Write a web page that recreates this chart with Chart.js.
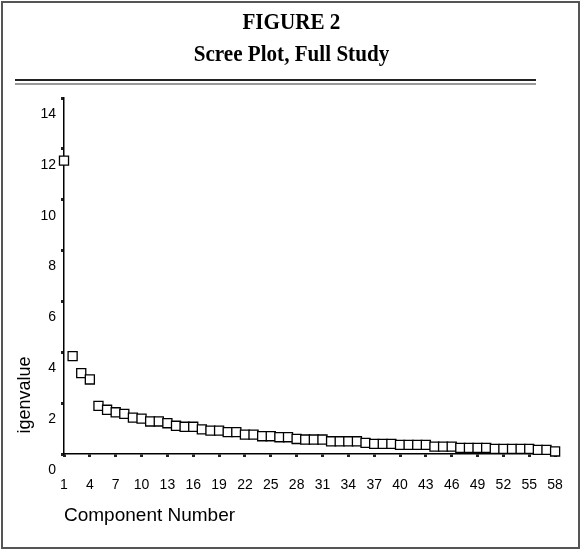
<!DOCTYPE html>
<html>
<head>
<meta charset="utf-8">
<script src="https://cdn.jsdelivr.net/npm/chart.js@4/dist/chart.umd.min.js"></script>
<style>
  html, body { margin: 0; padding: 0; background: #fff; }
  #wrap { position: relative; width: 583px; height: 550px; overflow: hidden; background: #fff; }
  #frame { position: absolute; left: 1px; top: 1px; width: 575px; height: 544px; border: 2px solid #555; box-sizing: content-box; }
  #heading { position: absolute; left: 0; top: 5px; width: 583px; text-align: center; transform: scaleX(0.88); transform-origin: 291px 0;
    font-family: "Liberation Serif", "Times New Roman", serif; font-weight: bold; font-size: 24px; line-height: 32px; color: #000; }
  #rule { position: absolute; left: 15px; top: 79px; width: 521px; height: 2px; border-top: 2px solid #222; border-bottom: 2px solid #999; }
  #ytitle { position: absolute; left: 24px; top: 395px; transform: translate(-50%, -50%) rotate(-90deg);
    font-family: "Liberation Sans", Arial, sans-serif; font-size: 18px; color: #000; white-space: nowrap; }
  canvas { position: absolute; left: 0; top: 0; }
</style>
</head>
<body>
<div id="wrap">
  <canvas id="c" width="583" height="550"></canvas>
  <div id="frame"></div>
  <div id="heading">FIGURE 2<br>Scree Plot, Full Study</div>
  <div id="rule"></div>
  <div id="ytitle">igenvalue</div>
</div>
<script>
const components = [1,2,3,4,5,6,7,8,9,10,11,12,13,14,15,16,17,18,19,20,21,22,23,24,25,26,27,28,29,30,31,32,33,34,35,36,37,38,39,40,41,42,43,44,45,46,47,48,49,50,51,52,53,54,55,56,57,58];
const eigenvalues = [11.54,3.85,3.18,2.93,1.89,1.74,1.64,1.58,1.43,1.39,1.28,1.28,1.21,1.11,1.07,1.07,0.97,0.92,0.92,0.86,0.86,0.76,0.76,0.70,0.70,0.66,0.66,0.59,0.57,0.57,0.57,0.50,0.50,0.50,0.50,0.44,0.40,0.40,0.40,0.36,0.36,0.36,0.36,0.29,0.29,0.29,0.24,0.24,0.24,0.24,0.20,0.20,0.20,0.20,0.20,0.16,0.16,0.10];
const xTickValues = [1,4,7,10,13,16,19,22,25,28,31,34,37,40,43,46,49,52,55,58];
const yTickValues = [0,2,4,6,8,10,12,14];
const xTitle = 'Component Number';

const points = components.map((c, i) => ({ x: c, y: eigenvalues[i] }));
const tickFont = { family: 'Liberation Sans', size: 14 };

new Chart(document.getElementById('c'), {
  type: 'scatter',
  data: {
    datasets: [{
      data: points,
      showLine: false,
      pointStyle: 'rect',
      pointRadius: 6.4,
      pointHoverRadius: 6.4,
      pointBorderWidth: 1.3,
      pointBorderColor: '#000',
      pointBackgroundColor: '#fff',
      clip: false
    }]
  },
  options: {
    responsive: false,
    devicePixelRatio: 1,
    animation: false,
    layout: { padding: { top: 98, left: 0, right: 16, bottom: 0 } },
    plugins: { legend: { display: false }, tooltip: { enabled: false } },
    scales: {
      x: {
        type: 'linear',
        min: 1,
        max: 58.4,
        afterBuildTicks: s => { s.ticks = xTickValues.map(v => ({ value: v })); },
        afterFit: s => { s.height = 96; },
        border: { display: true, color: '#000', width: 1.5 },
        grid: { display: true, drawOnChartArea: false, drawTicks: true, tickLength: 3, tickWidth: 3, tickColor: '#222' },
        ticks: { color: '#000', font: tickFont, padding: 20, autoSkip: false, maxRotation: 0 },
        title: { display: true, text: xTitle, align: 'start', color: '#000',
                 font: { family: 'Liberation Sans', size: 19 }, padding: { top: 0, bottom: 23 } }
      },
      y: {
        type: 'linear',
        min: 0,
        max: 14,
        afterBuildTicks: s => { s.ticks = yTickValues.map(v => ({ value: v })); },
        afterFit: s => { s.width = 64; },
        border: { display: true, color: '#000', width: 1.5 },
        grid: { display: true, drawOnChartArea: false, drawTicks: true, tickLength: 3, tickWidth: 3, tickColor: '#222' },
        ticks: { color: '#000', font: tickFont, padding: 5, labelOffset: 16 }
      }
    }
  }
});
</script>
</body>
</html>
